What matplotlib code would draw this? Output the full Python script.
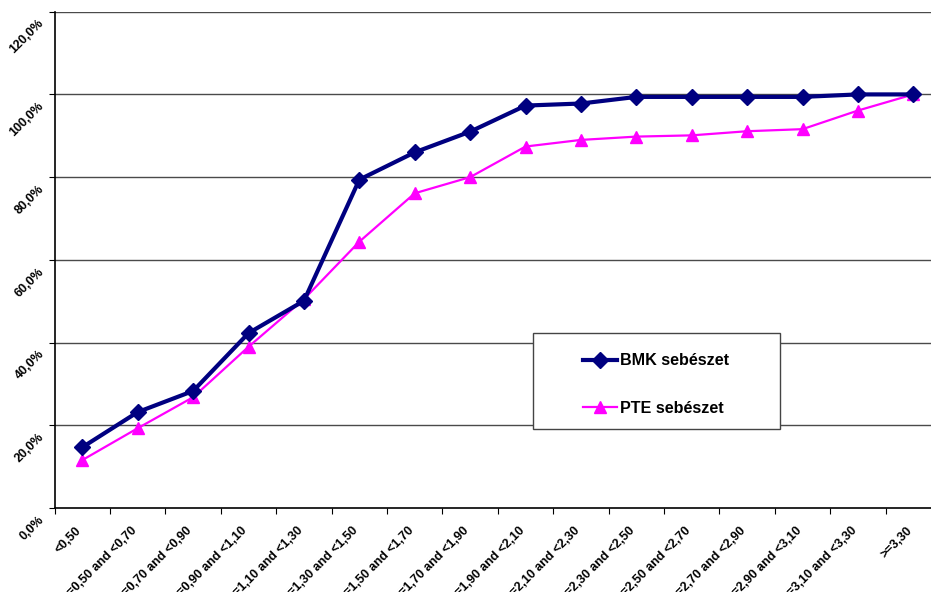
import numpy as np
import matplotlib
matplotlib.use("Agg")
import matplotlib.pyplot as plt
from matplotlib.patches import Rectangle
import matplotlib.transforms as mtransforms

categories = ["<0,50", ">=0,50 and <0,70", ">=0,70 and <0,90", ">=0,90 and <1,10",
              ">=1,10 and <1,30", ">=1,30 and <1,50", ">=1,50 and <1,70",
              ">=1,70 and <1,90", ">=1,90 and <2,10", ">=2,10 and <2,30",
              ">=2,30 and <2,50", ">=2,50 and <2,70", ">=2,70 and <2,90",
              ">=2,90 and <3,10", ">=3,10 and <3,30", ">=3,30"]
bmk = [14.7, 23.2, 28.3, 42.3, 50.1, 79.4, 86.0, 91.0, 97.3, 97.8,
       99.4, 99.4, 99.4, 99.4, 100.0, 100.0]
pte = [11.6, 19.3, 26.8, 39.0, 50.5, 64.4, 76.1, 80.0, 87.4, 89.0,
       89.8, 90.1, 91.1, 91.6, 96.1, 100.0]
y_ticks = [0, 20, 40, 60, 80, 100, 120]
y_labels = ["0,0%", "20,0%", "40,0%", "60,0%", "80,0%", "100,0%", "120,0%"]
series_names = ["BMK sebészet", "PTE sebészet"]

plt.rcParams["font.family"] = ["Liberation Sans", "DejaVu Sans"]
plt.rcParams["font.weight"] = "bold"

W, H = 931, 592
fig = plt.figure(figsize=(W / 100, H / 100), dpi=100)
x0, x1, ytop, ybot = 54.7, 941.0, 11.7, 508.0
ax = fig.add_axes([x0 / W, (H - ybot) / H, (x1 - x0) / W, (ybot - ytop) / H])

pos = np.arange(len(categories)) + 0.5
ax.set_xlim(0, len(categories))
ax.set_ylim(0, 120)

# horizontal gridlines
for yv in y_ticks[1:]:
    ax.axhline(yv, color="#4a4a4a", lw=1.0, zorder=1)

ax.plot(pos, bmk, color="#000080", lw=3.0, marker="D", ms=8,
        label=series_names[0], zorder=4, solid_joinstyle="miter")
ax.plot(pos, pte, color="#FF00FF", lw=1.6, marker="^", ms=8.5,
        label=series_names[1], zorder=3)

for s in ["top", "right"]:
    ax.spines[s].set_visible(False)
for s in ["left", "bottom"]:
    ax.spines[s].set_color("black")
    ax.spines[s].set_linewidth(1.2)

ax.set_xticks(np.arange(len(categories) + 1))
ax.set_xticklabels([])
ax.set_xticks(pos, minor=True)
ax.set_xticklabels(categories, minor=True, rotation=45, ha="right", va="center",
                   rotation_mode="anchor", fontsize=9, fontweight="bold")
ax.tick_params(axis="x", which="minor", length=0, pad=15)
ax.tick_params(axis="x", which="major", length=4, direction="out", color="black")
dxl = mtransforms.ScaledTranslation(-3 / 100, 0, fig.dpi_scale_trans)
for lbl in ax.get_xticklabels(minor=True):
    lbl.set_transform(lbl.get_transform() + dxl)

ax.set_yticks(y_ticks)
ax.set_yticklabels(y_labels, rotation=45, ha="right", va="center",
                   rotation_mode="anchor", fontsize=9, fontweight="bold")
ax.tick_params(axis="y", length=4, direction="out", pad=5)
dy = mtransforms.ScaledTranslation(0, -10 / 100, fig.dpi_scale_trans)
for lbl in ax.get_yticklabels():
    lbl.set_transform(lbl.get_transform() + dy)

# legend box
lx0, lx1, ly0, ly1 = 533, 780, 333, 429
bx = (lx0 - x0) / (x1 - x0)
bw = (lx1 - lx0) / (x1 - x0)
by = (ybot - ly1) / (ybot - ytop)
bh = (ly1 - ly0) / (ybot - ytop)
ax.add_patch(Rectangle((bx, by), bw, bh, transform=ax.transAxes,
                       facecolor="white", edgecolor="#444444", lw=1.0, zorder=5))
leg = ax.legend(loc="center", bbox_to_anchor=(bx + bw / 2, by + bh / 2 - 0.007),
                frameon=False, handlelength=2.1,
                handletextpad=0.2, labelspacing=2.0,
                prop={"weight": "bold", "size": 11.6})
leg.set_zorder(6)

fig.savefig("out.png", dpi=100)
